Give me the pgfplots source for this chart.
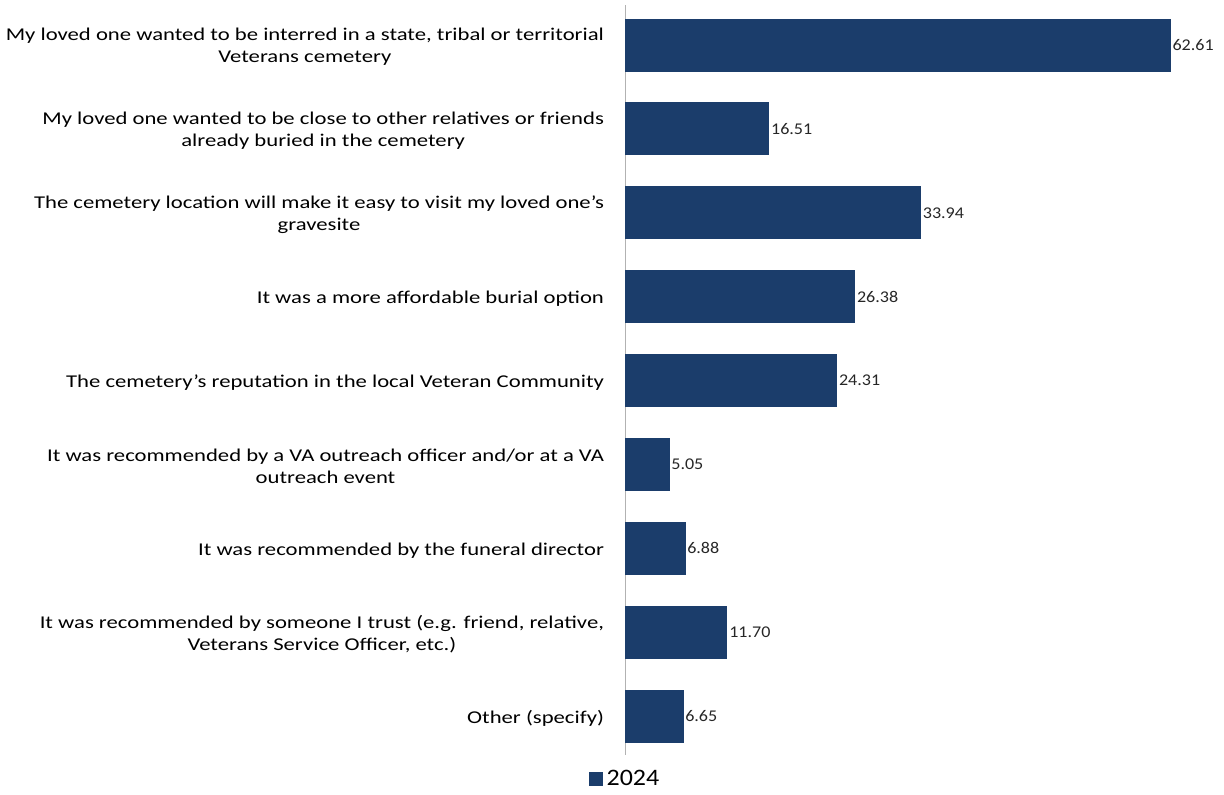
\documentclass[border=0pt]{standalone}
\usepackage{fontspec}
\setmainfont{Carlito}
\newfontfamily\catfont{Carlito}[FakeStretch=1.26]
\newfontfamily\legfont{Carlito}[FakeStretch=1.1]
\usepackage{pgfplots}
\pgfplotsset{compat=1.18}
\definecolor{navy}{HTML}{1B3D6B}
\begin{document}
\begin{tikzpicture}[x=1pt,y=1pt]
\useasboundingbox (0,0) rectangle (612,397);
\begin{axis}[at={(312.5pt,19.5pt)}, anchor=south west, scale only axis,
 width=299.5pt, height=375pt,
 xbar, bar width=26pt, xmin=0, xmax=68.8, ymin=-0.477, ymax=8.465, y dir=reverse,
 axis x line=none, axis y line=left, axis line style={-, draw=gray!60},
 ytick={0,...,8}, major tick length=0pt,
 yticklabels={
  {My loved one wanted to be interred in a state, tribal or territorial\\Veterans cemetery},
  {My loved one wanted to be close to other relatives or friends\\already buried in the cemetery},
  {The cemetery location will make it easy to visit my loved one’s\\gravesite},
  {It was a more affordable burial option},
  {The cemetery’s reputation in the local Veteran Community},
  {It was recommended by a VA outreach officer and/or at a VA\\outreach event},
  {It was recommended by the funeral director},
  {It was recommended by someone I trust (e.g. friend, relative,\\Veterans Service Officer, etc.)},
  {Other (specify)}},
 yticklabel style={align=center, font=\catfont\fontsize{9}{11}\selectfont, xshift=-7pt, yshift=-1pt},
 /pgf/number format/fixed, /pgf/number format/fixed zerofill, /pgf/number format/precision=2,
 /pgf/number format/assume math mode=true,
 nodes near coords, nodes near coords style={font=\legfont\fontsize{8.2}{9}\selectfont, anchor=west, inner sep=1pt, text=black!85},
 legend style={at={(0.0017,-0.032)}, anchor=center, draw=none, fill=none, font=\legfont\fontsize{11.8}{12}\selectfont,
   /tikz/every even column/.append style={column sep=2pt}},
 legend image code/.code={\fill[navy] (0pt,-3pt) rectangle (6.5pt,3.5pt);},
]
\addplot[fill=navy, draw=navy] coordinates {
 (62.61,0) (16.51,1) (33.94,2) (26.38,3) (24.31,4) (5.05,5) (6.88,6) (11.70,7) (6.65,8)};
\legend{2024}
\end{axis}
\end{tikzpicture}
\end{document}
